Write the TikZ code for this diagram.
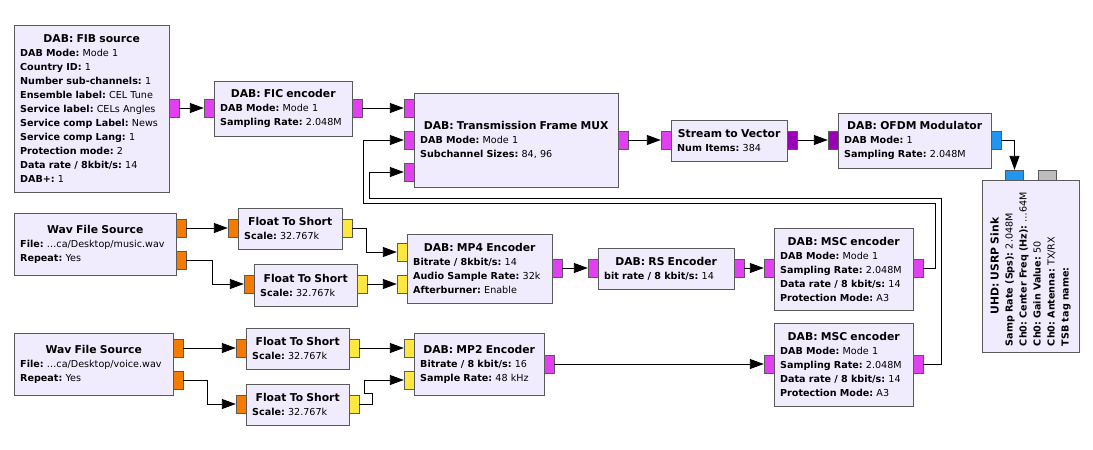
\documentclass[tikz,border=0pt]{standalone}
\usepackage{fontspec}
\setmainfont{DejaVu Sans}
\usetikzlibrary{arrows.meta,calc}
\frenchspacing

\definecolor{blockfill}{HTML}{F0ECFE}
\definecolor{blockline}{HTML}{5A5A5A}
\definecolor{bytecol}{HTML}{E040F0}
\definecolor{veccol}{HTML}{9A00B5}
\definecolor{floatcol}{HTML}{F57A00}
\definecolor{shortcol}{HTML}{FFE640}
\definecolor{cplxcol}{HTML}{2196F0}
\definecolor{msgcol}{HTML}{BDBDBD}

\newcommand\blkhead[1]{\centerline{\fontsize{10.8}{14}\selectfont\bfseries #1}\par}

\tikzset{
  block/.style={draw=blockline, fill=blockfill, anchor=north west, inner xsep=6pt,
    inner ysep=0pt, align=left, font=\fontsize{9.6}{14}\selectfont},
  port/.style={draw=blockline, fill=#1, minimum width=10pt, minimum height=18pt, inner sep=0pt},
  vport/.style={port=#1, minimum width=18pt, minimum height=10pt},
  wire/.style={line width=0.9pt, -{Triangle[length=14pt,width=10pt]}}
}

\begin{document}
\begin{tikzpicture}[x=1pt,y=-1pt]
  \useasboundingbox (0,0) rectangle (1093,450);

  % blocks
  \node[block, text width=143pt, minimum height=167pt] (fib) at (14,25) {\blkhead{DAB: FIB source}%
    \textbf{DAB Mode:} Mode 1\\ \textbf{Country ID:} 1\\ \textbf{Number sub-channels:} 1\\
    \textbf{Ensemble label:} CEL Tune\\ \textbf{Service label:} CELs Angles\\
    \textbf{Service comp Label:} News\\ \textbf{Service comp Lang:} 1\\
    \textbf{Protection mode:} 2\\ \textbf{Data rate / 8kbit/s:} 14\\ \textbf{DAB+:} 1};
  \node[block, text width=126pt, minimum height=55pt] (fic) at (214,81) {\blkhead{DAB: FIC encoder}%
    \textbf{DAB Mode:} Mode 1\\ \textbf{Sampling Rate:} 2.048M};
  \node[block, text width=192pt, minimum height=94pt] (mux) at (414,93) {\blkhead{DAB: Transmission Frame MUX}%
    \textbf{DAB Mode:} Mode 1\\ \textbf{Subchannel Sizes:} 84, 96};
  \node[block, text width=104pt, minimum height=41pt] (s2v) at (671,120) {\blkhead{Stream to Vector}%
    \textbf{Num Items:} 384};
  \node[block, text width=141pt, minimum height=55pt] (ofdm) at (838,113) {\blkhead{DAB: OFDM Modulator}%
    \textbf{DAB Mode:} 1\\ \textbf{Sampling Rate:} 2.048M};
  \node[block, anchor=center, rotate=90, text width=160pt, minimum height=97pt] (usrp) at (1030.5,266) {\blkhead{UHD: USRP Sink}%
    \textbf{Samp Rate (Sps):} 2.048M\\ \textbf{Ch0: Center Freq (Hz):} …64M\\
    \textbf{Ch0: Gain Value:} 50\\ \textbf{Ch0: Antenna:} TX/RX\\ \textbf{TSB tag name:}};

  \node[block, text width=150pt, minimum height=62pt] (wav1) at (14,213) {\blkhead{Wav File Source}%
    \textbf{File:} …ca/Desktop/music.wav\\ \textbf{Repeat:} Yes};
  \node[block, text width=92pt, minimum height=41pt] (f2s1a) at (238,208) {\blkhead{Float To Short}%
    \textbf{Scale:} 32.767k};
  \node[block, text width=91pt, minimum height=42pt] (f2s1b) at (254,264) {\blkhead{Float To Short}%
    \textbf{Scale:} 32.767k};
  \node[block, text width=133pt, minimum height=69pt] (mp4) at (407,234) {\blkhead{DAB: MP4 Encoder}%
    \textbf{Bitrate / 8kbit/s:} 14\\ \textbf{Audio Sample Rate:} 32k\\ \textbf{Afterburner:} Enable};
  \node[block, text width=124pt, minimum height=41pt] (rs) at (598,248) {\blkhead{DAB: RS Encoder}%
    \textbf{bit rate / 8 kbit/s:} 14};
  \node[block, text width=127pt, minimum height=82pt] (msc1) at (774,228) {\blkhead{DAB: MSC encoder}%
    \textbf{DAB Mode:} Mode 1\\ \textbf{Sampling Rate:} 2.048M\\
    \textbf{Data rate / 8 kbit/s:} 14\\ \textbf{Protection Mode:} A3};

  \node[block, text width=147pt, minimum height=62pt] (wav2) at (14,333) {\blkhead{Wav File Source}%
    \textbf{File:} …ca/Desktop/voice.wav\\ \textbf{Repeat:} Yes};
  \node[block, text width=91pt, minimum height=41pt] (f2s2a) at (246,328) {\blkhead{Float To Short}%
    \textbf{Scale:} 32.767k};
  \node[block, text width=91pt, minimum height=41pt] (f2s2b) at (246,384) {\blkhead{Float To Short}%
    \textbf{Scale:} 32.767k};
  \node[block, text width=118pt, minimum height=62pt] (mp2) at (414,333) {\blkhead{DAB: MP2 Encoder}%
    \textbf{Bitrate / 8 kbit/s:} 16\\ \textbf{Sample Rate:} 48 kHz};
  \node[block, text width=127pt, minimum height=83pt] (msc2) at (774,323) {\blkhead{DAB: MSC encoder}%
    \textbf{DAB Mode:} Mode 1\\ \textbf{Sampling Rate:} 2.048M\\
    \textbf{Data rate / 8 kbit/s:} 14\\ \textbf{Protection Mode:} A3};

  % ports
  \node[port=bytecol] (fib-out) at (174,108) {};
  \node[port=bytecol] (fic-in) at (209,108) {};
  \node[port=bytecol] (fic-out) at (357,108) {};
  \node[port=bytecol] (mux-in1) at (409,108) {};
  \node[port=bytecol] (mux-in2) at (409,140) {};
  \node[port=bytecol] (mux-in3) at (409,172) {};
  \node[port=bytecol] (mux-out) at (623,140) {};
  \node[port=bytecol] (s2v-in) at (666,140) {};
  \node[port=veccol] (s2v-out) at (792,140) {};
  \node[port=veccol] (ofdm-in) at (833,140) {};
  \node[port=cplxcol] (ofdm-out) at (996,140) {};
  \node[vport=cplxcol] (usrp-in) at (1014.5,175) {};
  \node[vport=msgcol] (usrp-msg) at (1047,175) {};

  \node[port=floatcol] (wav1-out1) at (181,228) {};
  \node[port=floatcol] (wav1-out2) at (181,260) {};
  \node[port=floatcol] (f2s1a-in) at (233,228) {};
  \node[port=shortcol] (f2s1a-out) at (347,228) {};
  \node[port=floatcol] (f2s1b-in) at (249,284) {};
  \node[port=shortcol] (f2s1b-out) at (362,284) {};
  \node[port=shortcol] (mp4-in1) at (402,252) {};
  \node[port=shortcol] (mp4-in2) at (402,284) {};
  \node[port=bytecol] (mp4-out) at (557,268) {};
  \node[port=bytecol] (rs-in) at (593,268) {};
  \node[port=bytecol] (rs-out) at (739,268) {};
  \node[port=bytecol] (msc1-in) at (769,268) {};
  \node[port=bytecol] (msc1-out) at (918,268) {};

  \node[port=floatcol] (wav2-out1) at (178,348) {};
  \node[port=floatcol] (wav2-out2) at (178,380) {};
  \node[port=floatcol] (f2s2a-in) at (241,348) {};
  \node[port=shortcol] (f2s2a-out) at (354,348) {};
  \node[port=floatcol] (f2s2b-in) at (241,404) {};
  \node[port=shortcol] (f2s2b-out) at (354,404) {};
  \node[port=shortcol] (mp2-in1) at (409,348) {};
  \node[port=shortcol] (mp2-in2) at (409,380) {};
  \node[port=bytecol] (mp2-out) at (549,364) {};
  \node[port=bytecol] (msc2-in) at (769,364) {};
  \node[port=bytecol] (msc2-out) at (918,364) {};

  % connections
  \draw[wire] (fib-out) -- (fic-in);
  \draw[wire] (fic-out) -- (mux-in1);
  \draw[wire] (mux-out) -- (s2v-in);
  \draw[wire] (s2v-out) -- (ofdm-in);
  \draw[wire] (ofdm-out.east) -| (usrp-in.north);
  \draw[wire] (wav1-out1) -- (f2s1a-in);
  \draw[wire] (wav1-out2.east) -- ++(26,0) |- (f2s1b-in.west);
  \draw[wire] (f2s1a-out.east) -- ++(14,0) |- (mp4-in1.west);
  \draw[wire] (f2s1b-out) -- (mp4-in2);
  \draw[wire] (mp4-out) -- (rs-in);
  \draw[wire] (rs-out) -- (msc1-in);
  \draw[wire] (msc1-out.east) -- ++(12,0) -- ++(0,-65) -| ($(mux-in2.west)+(-40,0)$) -- (mux-in2.west);
  \draw[wire] (msc2-out.east) -- ++(18,0) -- ++(0,-166) -| ($(mux-in3.west)+(-34,0)$) -- (mux-in3.west);
  \draw[wire] (wav2-out1) -- (f2s2a-in);
  \draw[wire] (wav2-out2.east) -- ++(24,0) |- (f2s2b-in.west);
  \draw[wire] (f2s2a-out) -- (mp2-in1);
  \draw[wire] (f2s2b-out.east) -- ++(13,0) -- ++(0,-11) -- ++(-8,0) |- (mp2-in2.west);
  \draw[wire] (mp2-out) -- (msc2-in);
\end{tikzpicture}
\end{document}
